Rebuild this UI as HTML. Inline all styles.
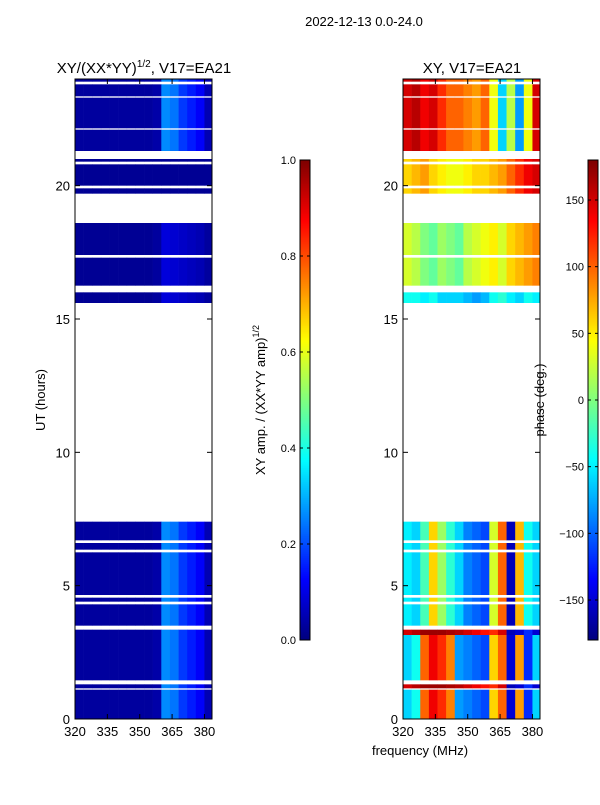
<!DOCTYPE html>
<html><head><meta charset="utf-8"><style>
body{margin:0;background:#fff;font-family:"Liberation Sans",sans-serif;}
svg text{font-family:"Liberation Sans",sans-serif;fill:#000}
</style></head><body>
<svg id="fig" width="600" height="800" xmlns="http://www.w3.org/2000/svg">
<rect width="600" height="800" fill="#fff"/>
<text x="364" y="26" font-size="13" text-anchor="middle">2022-12-13 0.0-24.0</text>
<text x="144" y="73" font-size="15" text-anchor="middle">XY/(XX*YY)<tspan dy="-6" font-size="10">1/2</tspan><tspan dy="6">, V17=EA21</tspan></text>
<text x="472" y="73" font-size="15" text-anchor="middle">XY, V17=EA21</text>
<text transform="translate(45,400) rotate(-90)" font-size="13" text-anchor="middle">UT (hours)</text>
<text x="420" y="755" font-size="13" text-anchor="middle">frequency (MHz)</text>
<text transform="translate(265,400) rotate(-90)" font-size="13" text-anchor="middle">XY amp. / (XX*YY amp)<tspan dy="-6" font-size="9">1/2</tspan></text>
<text transform="translate(544,400) rotate(-90)" font-size="13" text-anchor="middle">phase (deg.)</text>
<g id="left"></g>
<g id="right"></g>
<g id="cb1"></g>
<g id="cb2"></g>
</svg>
<script>
const freqBinStart=[320,324,328,332,336,340,344,348,352,356,360,364,368,372,376,380];
const segStart=[0,1.15,1.45,3.15,3.5,4.4,4.65,6.35,6.7,15.6,16.25,17.4,19.7,20.0,20.9,21.3,22.15,23.35,23.9];
const segEnd  =[1.1,1.3,3.15,3.35,4.3,4.55,6.25,6.6,7.4,16.0,17.3,18.6,19.9,20.8,21.0,22.1,23.3,23.8,24.0];
const segAmp  =[0,0,0,0,0,0,0,0,0,1,1,1,2,2,2,0,0,0,0];
const segPhase=[0,1,0,1,2,2,2,2,2,3,4,4,5,5,5,6,6,6,6];
const ampProfiles=[
 [0.03,0.03,0.03,0.03,0.03,0.03,0.03,0.03,0.03,0.04,0.26,0.24,0.18,0.15,0.12,0.05],
 [0.02,0.02,0.02,0.02,0.02,0.02,0.02,0.02,0.02,0.03,0.09,0.08,0.07,0.06,0.05,0.03],
 [0.02,0.02,0.02,0.02,0.02,0.02,0.02,0.02,0.02,0.02,0.02,0.02,0.02,0.02,0.02,0.02]];
const phaseProfiles=[
 [-60,-40,100,140,120,90,-80,-90,-100,-110,60,100,-150,80,-120,-60],
 [150,160,170,170,170,165,160,150,140,130,120,150,-160,-150,-120,-150],
 [-50,-60,-20,60,10,-30,-60,-90,-100,-110,30,100,-160,70,-40,-60],
 [-40,-40,-50,-40,-60,-60,-60,-70,-80,-70,-40,-30,-50,-60,-40,-50],
 [30,20,0,-10,10,0,-10,20,30,40,50,30,60,70,80,90],
 [60,70,80,60,50,40,40,50,60,60,70,80,100,120,140,150],
 [150,160,140,150,120,100,100,90,80,100,40,-60,20,-80,40,150]];
const xTicks=[320,335,350,365,380];
const yTicks=[0,5,10,15,20];
const amp_cbTicks=[0.0,0.2,0.4,0.6,0.8,1.0];
const phase_cbTicks=[-150,-100,-50,0,50,100,150];

const NS="http://www.w3.org/2000/svg";
function jet(v){v=Math.max(0,Math.min(1,v));
 const r=Math.max(0,Math.min(1,1.5-Math.abs(4*v-3))),g=Math.max(0,Math.min(1,1.5-Math.abs(4*v-2))),b=Math.max(0,Math.min(1,1.5-Math.abs(4*v-1)));
 return `rgb(${Math.round(r*255)},${Math.round(g*255)},${Math.round(b*255)})`;}
function mk(tag,attrs,parent){const e=document.createElementNS(NS,tag);for(const k in attrs)e.setAttribute(k,attrs[k]);parent.appendChild(e);return e;}
const yScale=h=>719-h*(640/24);
function panel(gid,x0,kind){
 const g=document.getElementById(gid);
 const xScale=f=>x0+(f-320)*(137/63.5);
 for(let s=0;s<segStart.length;s++){
  for(let i=0;i<freqBinStart.length;i++){
   let v;
   if(kind==='amp')v=ampProfiles[segAmp[s]][i];
   else v=(phaseProfiles[segPhase[s]][i]+180)/360;
   const x1=xScale(freqBinStart[i]),x2=xScale(Math.min(freqBinStart[i]+4,383.5));
   const r=mk('rect',{x:x1,y:yScale(segEnd[s]),width:x2-x1+0.3,height:yScale(segStart[s])-yScale(segEnd[s]),fill:jet(v)},g);
   
   
  }
 }
 const fr=mk('rect',{x:x0,y:79,width:137,height:640,fill:'none',stroke:'#000','stroke-width':1},g);
 
 
 xTicks.forEach(t=>{const x=xScale(t);
  mk('line',{x1:x,x2:x,y1:719,y2:714,stroke:'#000'},g);mk('line',{x1:x,x2:x,y1:79,y2:84,stroke:'#000'},g);
  const tx=mk('text',{x:x,y:736,'font-size':13,'text-anchor':'middle'},g);tx.textContent=t;
  
  });
 yTicks.forEach(t=>{const y=yScale(t);
  mk('line',{x1:x0,x2:x0+5,y1:y,y2:y,stroke:'#000'},g);mk('line',{x1:x0+137,x2:x0+132,y1:y,y2:y,stroke:'#000'},g);
  const tx=mk('text',{x:x0-5,y:y+5,'font-size':13,'text-anchor':'end'},g);tx.textContent=t;
  
  });
}
panel('left',75,'amp');
panel('right',403,'phase');
function colorbar(gid,x0,vmin,vmax,ticks,fmt){
 const g=document.getElementById(gid);
 for(let i=0;i<240;i++){const v=i/239;
  mk('rect',{x:x0,y:640-(i+1)*2,width:10,height:2.3,fill:jet(v)},g);}
 mk('rect',{x:x0,y:160,width:10,height:480,fill:'none',stroke:'#000'},g);
 ticks.forEach(t=>{const y=640-(t-vmin)/(vmax-vmin)*480;
  mk('line',{x1:x0,x2:x0+3,y1:y,y2:y,stroke:'#000'},g);mk('line',{x1:x0+10,x2:x0+7,y1:y,y2:y,stroke:'#000'},g);
  const tx=mk('text',{x:x0-4,y:y+4,'font-size':11,'text-anchor':'end'},g);tx.textContent=fmt(t);
  
  });
}
colorbar('cb1',300,0,1,amp_cbTicks,t=>t.toFixed(1));
colorbar('cb2',588,-180,180,phase_cbTicks,t=>t<0?'\u2212'+(-t):String(t));
</script>
</body></html>
